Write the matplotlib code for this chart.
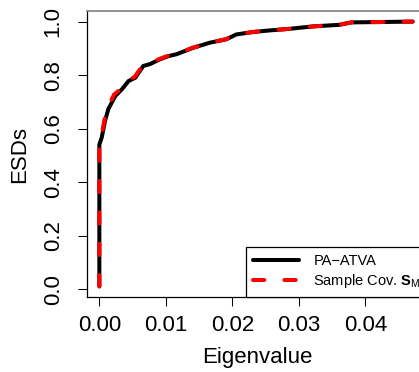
import matplotlib
matplotlib.use('Agg')
import matplotlib.pyplot as plt

# ESD curves
eig_pa = [0.0, 0.0, 0.00036, 0.00086, 0.00135, 0.0024, 0.0034, 0.0044, 0.0054,
          0.0061, 0.0066, 0.0076, 0.0091, 0.0104, 0.0116, 0.0141, 0.0166,
          0.0191, 0.0206, 0.0231, 0.0256, 0.0286, 0.0321, 0.0361, 0.0379, 0.0471]
esd_pa = [0.01, 0.54, 0.567, 0.629, 0.673, 0.722, 0.747, 0.778, 0.79,
          0.816, 0.834, 0.841, 0.859, 0.871, 0.878, 0.902, 0.921,
          0.934, 0.952, 0.961, 0.967, 0.973, 0.982, 0.988, 0.997, 1.0]

eig_s = [0.0, 0.0, 0.0003, 0.0008, 0.0013, 0.0022, 0.0033, 0.0043, 0.0053,
         0.0060, 0.0066, 0.0075, 0.0090, 0.0103, 0.0116, 0.0140, 0.0166,
         0.0190, 0.0206, 0.0230, 0.0256, 0.0286, 0.0321, 0.0360, 0.0379, 0.0471]
esd_s = [0.01, 0.55, 0.572, 0.636, 0.68, 0.727, 0.75, 0.782, 0.793,
         0.818, 0.835, 0.843, 0.86, 0.872, 0.879, 0.902, 0.921,
         0.934, 0.951, 0.961, 0.967, 0.973, 0.982, 0.988, 0.997, 1.0]

x_ticks = [0.00, 0.01, 0.02, 0.03, 0.04]
y_ticks = [0.0, 0.2, 0.4, 0.6, 0.8, 1.0]

plt.rcParams['font.family'] = ['Liberation Sans', 'DejaVu Sans']
plt.rcParams['mathtext.fontset'] = 'custom'
plt.rcParams['mathtext.rm'] = 'Liberation Sans'
plt.rcParams['mathtext.bf'] = 'Liberation Sans:bold'

W, H = 419, 372
fig = plt.figure(figsize=(W / 100, H / 100), dpi=100)
# plot region in pixels: left 86.7, right 428 (clipped), top 11, bottom 297
ax = fig.add_axes([86.7 / W, 1 - 297 / H, (428 - 86.7) / W, (297 - 11) / H])

ax.plot(eig_pa, esd_pa, color='black', lw=2.9, solid_capstyle='round',
        solid_joinstyle='round', label='PA\u2212ATVA')
ax.plot(eig_s, esd_s, color='#ff0000', lw=2.9, dashes=(2.8, 5.0),
        dash_capstyle='round', dash_joinstyle='round',
        label=r'Sample Cov. $\mathbf{S}_{\mathrm{M}}$')

ax.set_xlim(-0.0019, 0.0494)
ax.set_ylim(-0.0296, 1.0396)
ax.set_xticks(x_ticks)
ax.set_xticklabels(['%.2f' % v for v in x_ticks])
ax.set_yticks(y_ticks)
ax.set_yticklabels(['%.1f' % v for v in y_ticks])

ax.tick_params(axis='both', direction='out', length=6.8, width=0.75,
               labelsize=16, color='black')
ax.tick_params(axis='x', pad=6.2)
ax.tick_params(axis='y', pad=9.8, labelrotation=90)
for lbl in ax.get_yticklabels():
    lbl.set_va('center')

for side in ['left', 'bottom', 'right']:
    ax.spines[side].set_linewidth(0.9)
    ax.spines[side].set_color('black')
ax.spines['top'].set_linewidth(1.2)
ax.spines['top'].set_color('#808080')

fig.text(257 / W, 1 - 358 / H, 'Eigenvalue', fontsize=16,
         ha='center', va='center')
fig.text(19.7 / W, 1 - 154 / H, 'ESDs', fontsize=16, rotation=90,
         ha='center', va='center')

leg = ax.legend(loc='lower right', bbox_to_anchor=(1, 0), borderaxespad=0,
                fontsize=10.5, handlelength=3.1, handletextpad=1.0,
                borderpad=0.5, labelspacing=0.25, fancybox=False,
                framealpha=1, edgecolor='black')
leg.get_frame().set_linewidth(0.9)

fig.savefig('out.png', dpi=100)
